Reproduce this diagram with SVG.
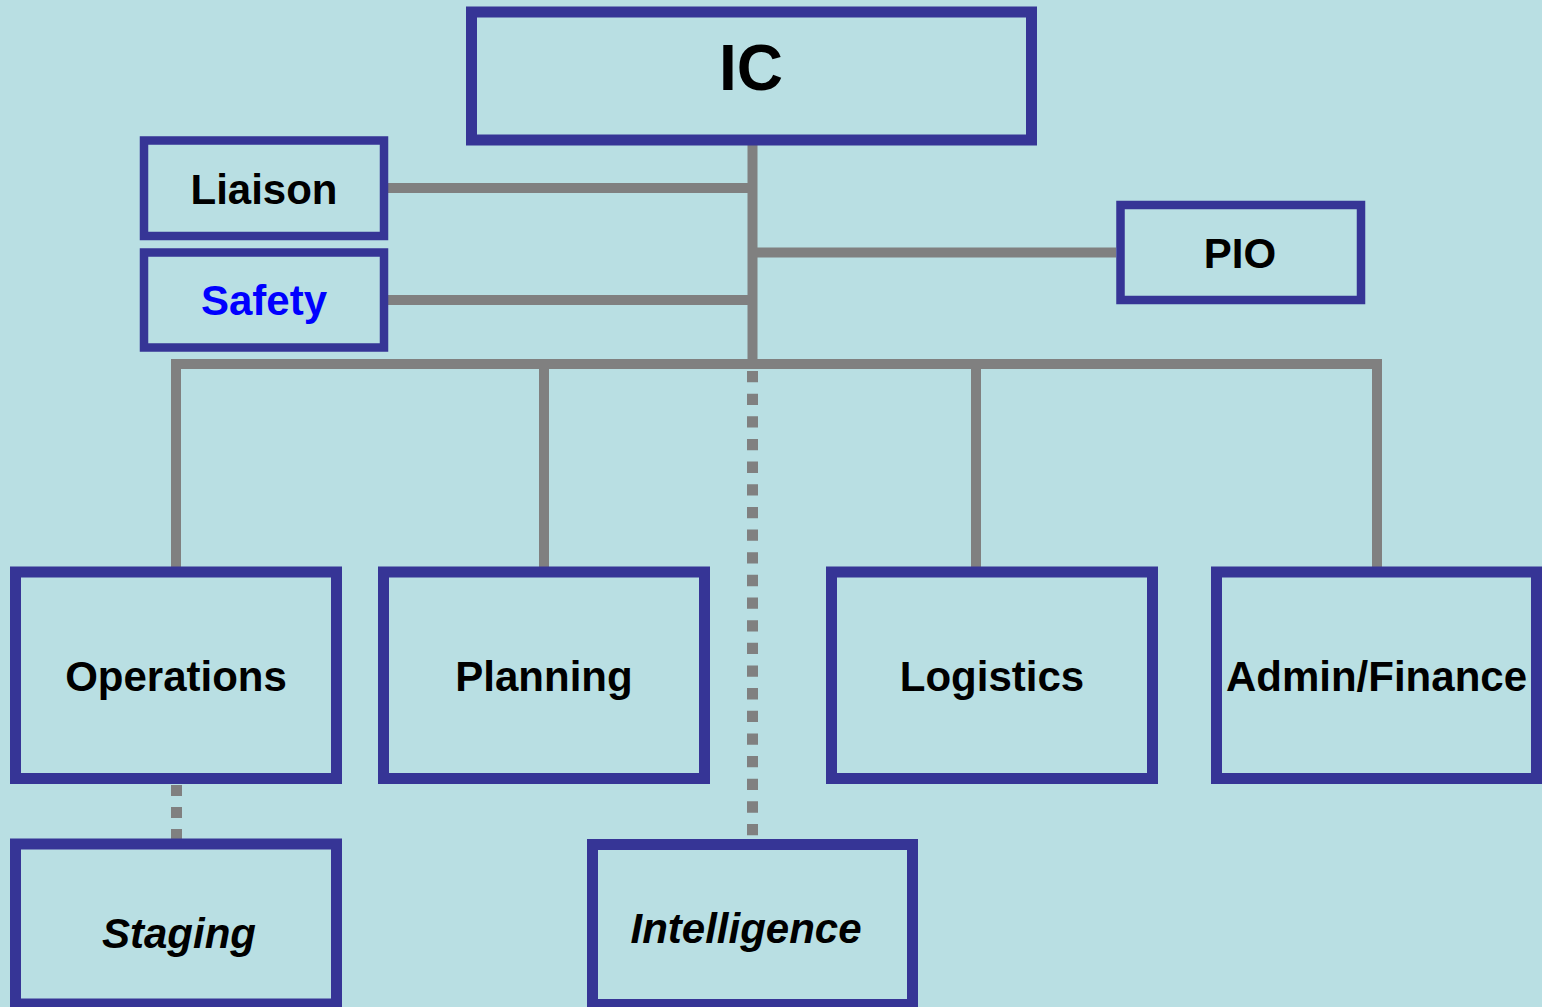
<svg xmlns="http://www.w3.org/2000/svg" width="1542" height="1007" viewBox="0 0 1542 1007">
<style>
.box{fill:#B9DFE3;stroke:#363596;stroke-width:11}
.sm{stroke-width:8.5}
.t{font-family:"Liberation Sans",Arial,sans-serif;font-weight:bold;font-size:42px;text-anchor:middle;fill:#000}
.it{font-style:italic}
.ln{stroke:#808080;stroke-width:10;fill:none}
.dot{stroke:#808080;stroke-width:11;fill:none;stroke-dasharray:11.3 11.35}
</style>
<rect width="1542" height="1007" fill="#B9DFE3"/>
<g id="connectors">
<line class="ln" x1="752.5" y1="140" x2="752.5" y2="369"/>
<line class="ln" x1="388" y1="188" x2="752" y2="188"/>
<line class="ln" x1="388" y1="300" x2="752" y2="300"/>
<line class="ln" x1="752" y1="252.5" x2="1116" y2="252.5"/>
<line class="ln" x1="171" y1="364" x2="1382" y2="364"/>
<line class="ln" x1="176" y1="364" x2="176" y2="567"/>
<line class="ln" x1="544" y1="364" x2="544" y2="567"/>
<line class="ln" x1="976" y1="364" x2="976" y2="572"/>
<line class="ln" x1="1377" y1="364" x2="1377" y2="567"/>
<line class="dot" x1="752.5" y1="371" x2="752.5" y2="837"/>
<line class="dot" x1="176.5" y1="785" x2="176.5" y2="841" style="stroke-dasharray:11 11"/>
</g>
<g id="ic"><rect class="box" x="471.5" y="12" width="560" height="128"/><text class="t" x="751" y="90" style="font-size:64px">IC</text></g>
<g id="liaison"><rect class="box sm" x="144" y="140.5" width="240" height="95.5"/><text class="t" x="264" y="204">Liaison</text></g>
<g id="safety"><rect class="box sm" x="144" y="252.5" width="240" height="95"/><text class="t" x="264" y="315" style="fill:#0000FF">Safety</text></g>
<g id="pio"><rect class="box sm" x="1120.5" y="205" width="240.5" height="95"/><text class="t" x="1240" y="268">PIO</text></g>
<g id="operations"><rect class="box" x="15.5" y="572" width="321" height="206.5"/><text class="t" x="176" y="691">Operations</text></g>
<g id="planning"><rect class="box" x="383.5" y="572" width="321" height="206.5"/><text class="t" x="544" y="691">Planning</text></g>
<g id="logistics"><rect class="box" x="831.5" y="572" width="321" height="206.5"/><text class="t" x="992" y="691">Logistics</text></g>
<g id="adminfinance"><rect class="box" x="1216.5" y="572" width="320" height="206.5"/><text class="t" x="1376.5" y="691">Admin/Finance</text></g>
<g id="staging"><rect class="box" x="15.5" y="844" width="321" height="160"/><text class="t it" x="179" y="948">Staging</text></g>
<g id="intelligence"><rect class="box" x="592.5" y="844.5" width="320" height="160"/><text class="t it" x="746" y="943">Intelligence</text></g>
</svg>
